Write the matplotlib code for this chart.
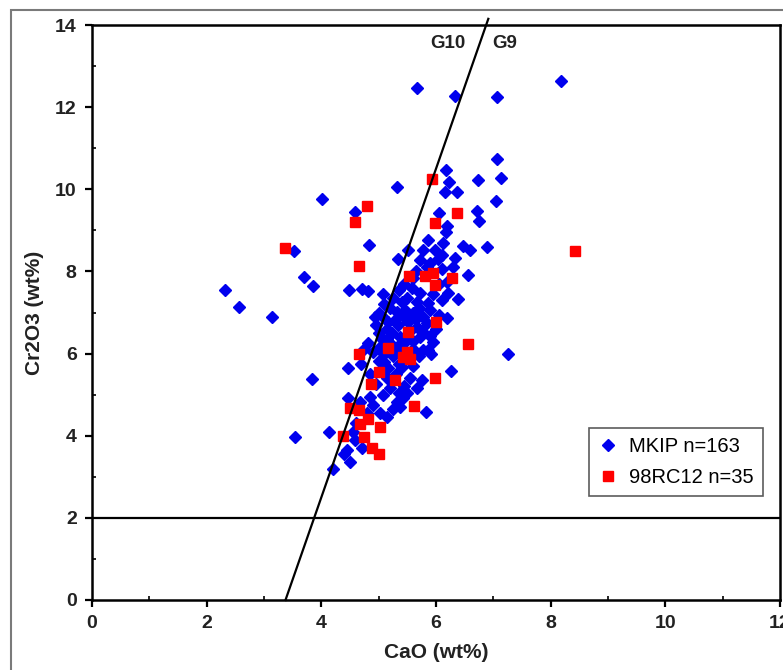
import matplotlib
matplotlib.use("Agg")
import matplotlib.pyplot as plt
from matplotlib.patches import Rectangle
from matplotlib.ticker import MultipleLocator

# MKIP garnets (CaO, Cr2O3 wt%)
mkip_cao = [
    2.32, 2.57, 3.14, 3.53, 3.70, 3.86, 4.01, 3.84, 3.54, 4.13, 4.20,
    5.67, 6.33, 7.07, 8.18, 7.06, 7.13, 6.18, 6.23, 6.74, 5.32,
    6.16, 6.37, 7.05, 6.06, 6.72, 6.75, 6.19, 6.18, 5.86, 6.13,
    6.47, 6.60, 6.89, 5.78, 5.99, 5.51, 4.59, 4.83, 5.34, 5.72, 6.33, 6.03,
    4.49, 4.71, 4.82, 5.08, 5.58, 5.72, 5.67, 6.56, 6.39, 6.21,
    5.86, 6.19, 6.05, 6.20, 6.10, 5.85, 5.65, 6.30, 5.95, 6.10,
    5.60, 5.45, 5.35, 5.25,
    4.94, 5.08, 5.32, 5.46, 5.60, 5.78, 5.17, 5.34, 5.52, 5.67,
    5.24, 5.38, 5.72, 4.82, 5.03, 5.32, 5.78, 5.90, 5.95, 5.86,
    5.92, 7.26, 5.45, 5.60, 5.15, 5.00, 4.95, 5.55, 5.85, 5.90,
    5.45, 5.20, 5.10, 5.40, 5.50, 5.70, 5.05, 4.90, 5.60, 5.10,
    5.25, 6.00, 6.05,
    4.47, 5.00, 5.17, 5.41, 5.55, 5.67, 5.20, 5.08, 5.32, 5.43,
    4.90, 5.03, 4.47, 4.68, 5.38, 5.83, 4.59, 4.71, 4.45, 4.50,
    6.26, 4.75, 4.70, 4.85, 5.30, 5.45, 5.15, 5.60, 5.75, 4.95,
    5.25, 5.15, 4.80, 4.60, 4.55, 5.50, 4.40, 4.85, 5.05, 5.35,
    5.00, 5.15, 5.30, 5.50, 5.65, 5.75, 5.20, 5.40, 5.70, 5.35,
    5.10, 6.10, 5.90,
]
mkip_cr = [
    7.55, 7.13, 6.90, 8.50, 7.87, 7.65, 9.77, 5.37, 3.98, 4.10, 3.20,
    12.46, 12.27, 12.24, 12.64, 10.73, 10.27, 10.47, 10.18, 10.23, 10.05,
    9.94, 9.94, 9.72, 9.43, 9.48, 9.23, 9.10, 8.96, 8.77, 8.69,
    8.62, 8.52, 8.60, 8.52, 8.52, 8.52, 9.45, 8.64, 8.30, 8.28, 8.33, 8.30,
    7.55, 7.57, 7.53, 7.45, 7.60, 7.47, 7.26, 7.91, 7.32, 7.47,
    7.23, 6.87, 7.70, 7.75, 8.05, 8.10, 8.00, 8.10, 7.45, 7.30,
    7.85, 7.70, 7.55, 7.35,
    6.90, 6.90, 7.02, 7.07, 6.98, 6.90, 6.77, 6.70, 6.77, 6.65,
    6.50, 6.41, 6.41, 6.26, 6.17, 6.17, 6.09, 6.42, 6.29, 6.09,
    6.00, 5.98, 6.25, 6.30, 6.35, 6.50, 6.70, 6.55, 6.75, 7.05,
    6.90, 7.10, 7.20, 7.25, 7.35, 7.10, 6.35, 6.05, 6.10, 6.00,
    5.95, 6.60, 6.95,
    5.65, 5.82, 5.65, 5.68, 5.41, 5.16, 5.16, 4.99, 4.82, 4.92,
    4.75, 4.55, 4.92, 4.82, 4.70, 4.58, 3.90, 3.70, 3.65, 3.36,
    5.58, 6.10, 5.75, 5.50, 5.50, 5.20, 5.40, 5.70, 5.35, 5.25,
    4.65, 4.45, 4.55, 4.30, 4.10, 5.05, 3.55, 4.95, 5.60, 5.05,
    7.00, 6.60, 6.85, 6.45, 6.85, 6.55, 6.25, 6.05, 5.95, 5.75,
    5.80, 8.40, 8.20,
]

# 98RC12 garnets
rc_cao = [3.37, 8.43, 5.93, 6.36, 5.99, 4.80, 4.59, 4.65, 5.53, 5.81,
          5.95, 5.99, 6.28, 6.00, 5.52, 6.56, 5.17, 4.66, 5.42, 5.55,
          5.00, 5.29, 4.86, 5.99, 5.62, 4.50, 4.65, 4.82, 4.68, 5.03,
          4.38, 4.75, 4.89, 5.00, 5.50]
rc_cr = [8.57, 8.50, 10.25, 9.43, 9.18, 9.60, 9.20, 8.13, 7.88, 7.88,
         7.97, 7.67, 7.85, 6.77, 6.53, 6.23, 6.13, 5.99, 5.92, 5.88,
         5.55, 5.36, 5.25, 5.41, 4.73, 4.68, 4.63, 4.40, 4.29, 4.21,
         4.00, 3.98, 3.70, 3.55, 6.05]

# G10 / G9 boundary and the 2 wt% Cr2O3 line
g_line_cr = [0, 14.15]
g_line_cao = [3.375 + 0.25 * c for c in g_line_cr]
cr_limit = 2

fnt = ["Liberation Sans", "DejaVu Sans"]

fig = plt.figure(figsize=(7.83, 6.70), dpi=100)
ax = fig.add_axes([92 / 783, 1 - 600 / 670, 688 / 783, 575 / 670])

# grey chart-area frame
fig.patches.append(Rectangle((11 / 783, -0.05), 1.2, 1 - 10 / 670 + 0.05,
                             transform=fig.transFigure, fill=False,
                             edgecolor="#7a7a7a", linewidth=1.5))

ax.plot(mkip_cao, mkip_cr, linestyle="none", marker="D", markersize=6.0,
        color="#0000ee", markeredgecolor="#0000ee", label="MKIP n=163", zorder=3)
ax.plot(rc_cao, rc_cr, linestyle="none", marker="s", markersize=7.8,
        color="#ff0000", markeredgecolor="#ff0000", label="98RC12 n=35", zorder=4)

ax.plot(g_line_cao, g_line_cr, color="black", linewidth=1.6, clip_on=False, zorder=5)
ax.axhline(cr_limit, color="black", linewidth=1.6, zorder=2)

ax.text(6.2, 13.55, "G10", family=fnt, fontweight="bold", fontsize=13.5,
        ha="center", va="center", color="#222222")
ax.text(7.2, 13.55, "G9", family=fnt, fontweight="bold", fontsize=13.5,
        ha="center", va="center", color="#222222")

ax.set_xlim(0, 12)
ax.set_ylim(0, 14)
ax.xaxis.set_major_locator(MultipleLocator(2))
ax.yaxis.set_major_locator(MultipleLocator(2))
ax.xaxis.set_minor_locator(MultipleLocator(1))
ax.yaxis.set_minor_locator(MultipleLocator(1))
ax.tick_params(which="major", direction="out", length=5, width=1.6, pad=6)
ax.tick_params(which="minor", direction="in", length=3, width=1.2)
for lab in ax.get_xticklabels() + ax.get_yticklabels():
    lab.set_family(fnt)
    lab.set_fontweight("bold")
    lab.set_fontsize(14)
    lab.set_color("#222222")

for sp in ax.spines.values():
    sp.set_linewidth(1.8)

ax.set_xlabel("CaO (wt%)", family=fnt, fontweight="bold", fontsize=15,
              labelpad=8, color="#222222")
ax.set_ylabel("Cr2O3 (wt%)", family=fnt, fontweight="bold", fontsize=15,
              labelpad=8, color="#222222")

leg = ax.legend(loc="upper left", bbox_to_anchor=(8.67, 4.2),
                bbox_transform=ax.transData, borderaxespad=0, borderpad=0.45,
                handletextpad=0.55, handlelength=1.0, labelspacing=0.6,
                fancybox=False, prop={"family": fnt, "size": 14.5})
leg.get_frame().set_edgecolor("#333333")
leg.get_frame().set_linewidth(1.2)

fig.savefig("out.png", dpi=100)
